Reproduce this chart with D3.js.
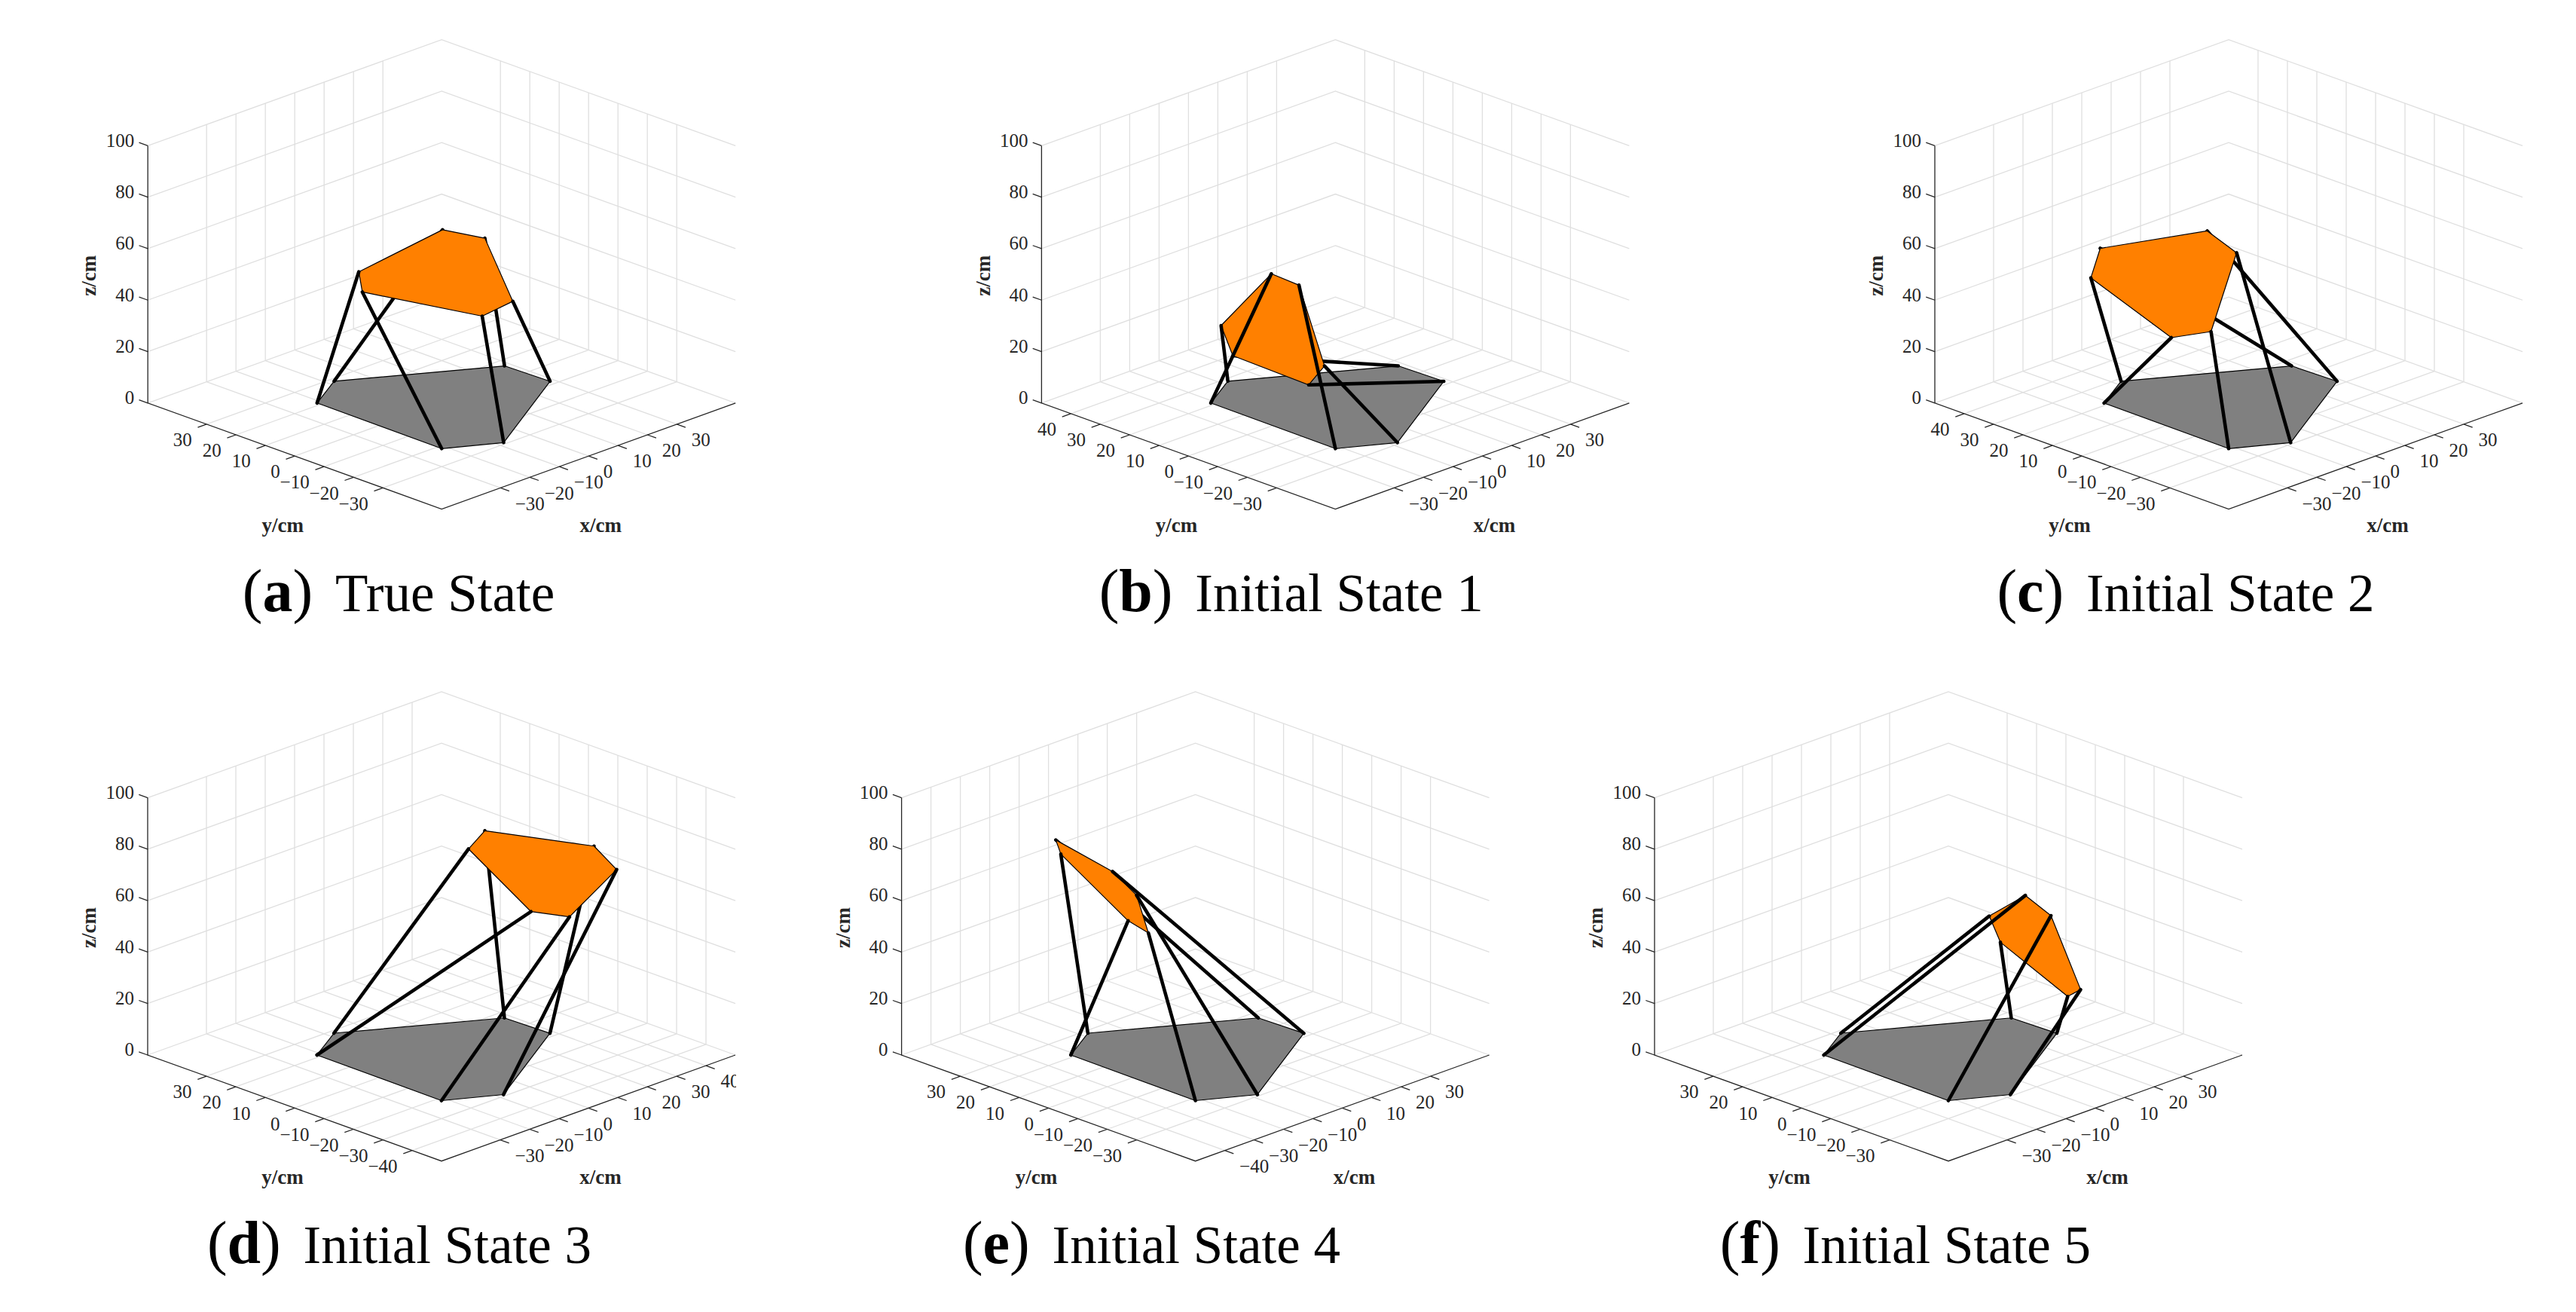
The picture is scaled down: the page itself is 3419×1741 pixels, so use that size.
<!DOCTYPE html>
<meta charset="utf-8">
<style>
    body { margin: 0; background: #fff; }
    text { font-family: "Liberation Serif", serif; fill: #262626; }
    .tick { font-size: 25px; }
    .label { font-size: 27px; font-weight: bold; text-anchor: middle; }
    .caption { font-size: 71px; fill: #000; text-anchor: middle; }
    .grid { stroke: #dfdfdf; stroke-width: 1.3; fill: none; }
    .axis { stroke: #262626; stroke-width: 1.3; fill: none; }
    .plate { stroke: #000; stroke-width: 1.2; stroke-linejoin: round; }
    .strut { stroke: #000; stroke-width: 4.6; fill: none; stroke-linecap: round; }
</style>
<svg width="3419" height="1741"></svg>
<script src="https://cdn.jsdelivr.net/npm/d3@7"></script>
<script>

    // anchor points on the floor, cm (x, y, z)
    var baseNodes = [[-21.2, 21.2, 0], [-8, 28.6, 0], [28.2, 6.8, 0], [28.7, -8.2, 0], [-8.1, -29.2, 0], [-21.5, -21.5, 0]];

    // moving plate per state, same order as baseNodes
    var topA = [[-12.9, 15.3, 50], [21.2, 20.9, 50], [24.4, 9.7, 50], [-0.6, -24.8, 50], [-12.8, -26.6, 50], [-21.8, 5.2, 50]];
    var topB = [[13.65, 35.45, 30], [-19.3, 19.6, 30], [-31.55, 3.35, 30], [-32.4, -23.3, 30], [-20.75, -17.05, 30], [13, 25.4, 30]];
    var topC = [[-33.5, -14, 45], [-19, 27.9, 45], [-3.5, 40.2, 45], [22.9, 30.2, 45], [17.6, 14.9, 45], [-23.9, -17.9, 45]];
    var topD = [[-2.07, -32.53, 70], [16.84, 7.67, 70], [28.22, 13.48, 70], [39.55, -12.35, 70], [32.35, -27.25, 70], [2.03, -41.53, 70]];
    var topE = [[-27, -4.1, 65], [-7, 38.8, 65], [-1.2, 46.3, 65], [-6.4, 21.8, 65], [-13.55, 6.45, 65], [-29.3, -13.3, 65]];
    var topF = [[39.85, 13.65, 40], [23.95, 10.05, 40], [13.5, -4.2, 40], [-0.6, -41.2, 40], [4.85, -40.15, 40], [34.65, -0.25, 40]];

    // struts hidden by the plate
    var behindA = [1, 2], behindB = [2], behindC = [2, 3], behindD = [2, 3], behindE = [2], behindF = [];

    var xTicks3 = [-30, -20, -10, 0, 10, 20, 30];
    var xTicksUp = [-30, -20, -10, 0, 10, 20, 30, 40];
    var xTicksDown = [-40, -30, -20, -10, 0, 10, 20, 30];
    var zTicks = [0, 20, 40, 60, 80, 100];

    var letters = ["a", "b", "c", "d", "e", "f"];
    var titles = ["True State", "Initial State 1", "Initial State 2", "Initial State 3", "Initial State 4", "Initial State 5"];

    var panels = [
        {cx: 586.2, fy: 534.8, capX: 529, capY: 811, top: topA, behind: behindA, xt: xTicks3, yt: xTicks3},
        {cx: 1772.4, fy: 534.8, capX: 1713.7, capY: 811, top: topB, behind: behindB, xt: xTicks3, yt: xTicksUp},
        {cx: 2958, fy: 534.8, capX: 2901, capY: 811, top: topC, behind: behindC, xt: xTicks3, yt: xTicksUp},
        {cx: 586, fy: 1400, capX: 530, capY: 1676, top: topD, behind: behindD, xt: xTicksUp, yt: xTicksDown},
        {cx: 1586.6, fy: 1400, capX: 1528.5, capY: 1676, top: topE, behind: behindE, xt: xTicksDown, yt: xTicks3},
        {cx: 2586, fy: 1400, capX: 2529, capY: 1676, top: topF, behind: behindF, xt: xTicks3, yt: xTicks3}
    ];

    var lim = 50;
    // isometric view: x-y goes to screen x, x+y and z go to screen y
    var su = d3.scaleLinear().domain([-100, 100]).range([-390, 390]);
    var sv = d3.scaleLinear().domain([-100, 100]).range([140.7, -140.7]);
    var sz = d3.scaleLinear().domain([0, 100]).range([0, -341.4]);

    function px(p) { return su(p[0] - p[1]); }
    function py(p) { return sv(p[0] + p[1]) + sz(p[2]); }

    var line3 = d3.line().x(px).y(py);

    var svg = d3.select("svg");

    svg.selectAll("g.panel")
        .data(panels)
        .enter().append("g")
        .attr("class", "panel")
        .attr("transform", function(d) { return "translate(" + d.cx + "," + d.fy + ")"; })
        .each(function(d, i) { drawPanel(d3.select(this), d, i); });

    function drawPanel(g, d, i) {
        var grid = g.append("g");

        // back walls, z lines
        zTicks.forEach(function(z) {
            grid.append("path").attr("class", "grid")
                .attr("d", line3([[-lim, lim, z], [lim, lim, z], [lim, -lim, z]]));
        });
        // verticals on the two walls
        d.xt.forEach(function(x) {
            grid.append("path").attr("class", "grid").attr("d", line3([[x, lim, 0], [x, lim, 100]]));
            grid.append("path").attr("class", "grid").attr("d", line3([[x, -lim, 0], [x, lim, 0]]));
        });
        d.yt.forEach(function(y) {
            grid.append("path").attr("class", "grid").attr("d", line3([[lim, y, 0], [lim, y, 100]]));
            grid.append("path").attr("class", "grid").attr("d", line3([[-lim, y, 0], [lim, y, 0]]));
        });

        // axes
        g.append("path").attr("class", "axis").attr("d", line3([[-lim, lim, 100], [-lim, lim, 0], [-lim, -lim, 0], [lim, -lim, 0]]));

        var clipId = "clip" + i;
        g.append("clipPath").attr("id", clipId).append("rect")
            .attr("x", -500).attr("y", -500).attr("width", 891).attr("height", 1000);
        var labels = g.append("g").attr("clip-path", "url(#" + clipId + ")");

        d.yt.forEach(function(y) {
            g.append("path").attr("class", "axis").attr("d", line3([[-lim, y, 0], [-lim - 3, y, 0]]));
            var p = [-lim, y, 0];
            labels.append("text").attr("class", "tick")
                .attr("x", px(p) - 19.5).attr("y", py(p) + 21)
                .attr("dy", "0.33em").attr("text-anchor", "end")
                .text(fmt(y));
        });
        d.xt.forEach(function(x) {
            g.append("path").attr("class", "axis").attr("d", line3([[x, -lim, 0], [x, -lim - 3, 0]]));
            var p = [x, -lim, 0];
            labels.append("text").attr("class", "tick")
                .attr("x", px(p) + 19.5).attr("y", py(p) + 21)
                .attr("dy", "0.33em").attr("text-anchor", "start")
                .text(fmt(x));
        });
        zTicks.forEach(function(z) {
            g.append("path").attr("class", "axis").attr("d", line3([[-lim, lim, z], [-lim, lim + 3, z]]));
            var p = [-lim, lim, z];
            labels.append("text").attr("class", "tick")
                .attr("x", px(p) - 18).attr("y", py(p) - 7)
                .attr("dy", "0.33em").attr("text-anchor", "end")
                .text(z);
        });

        g.append("text").attr("class", "label").attr("x", -211).attr("y", 163).attr("dy", "0.3em").text("y/cm");
        g.append("text").attr("class", "label").attr("x", 211).attr("y", 163).attr("dy", "0.3em").text("x/cm");
        g.append("text").attr("class", "label").attr("transform", "translate(-467,-169) rotate(-90)").attr("dy", "0.3em").text("z/cm");

        // floor plate
        g.append("path").attr("class", "plate").attr("fill", "#808080").attr("d", line3(baseNodes) + "Z");

        function strut(k) {
            g.append("path").attr("class", "strut").attr("d", line3([baseNodes[k], d.top[k]]));
        }
        d3.range(6).filter(function(k) { return d.behind.indexOf(k) >= 0; }).forEach(strut);
        g.append("path").attr("class", "plate").attr("fill", "#ff8000").attr("d", line3(d.top) + "Z");
        d3.range(6).filter(function(k) { return d.behind.indexOf(k) < 0; }).forEach(strut);

        var cap = svg.append("text").attr("class", "caption").attr("x", d.capX).attr("y", d.capY);
        cap.append("tspan").attr("font-size", 80).text("(");
        cap.append("tspan").attr("font-size", 80).attr("font-weight", "bold").text(letters[i]);
        cap.append("tspan").attr("font-size", 80).text(")");
        cap.append("tspan").attr("dx", "0.42em").text(titles[i]);
    }

    function fmt(v) { return v < 0 ? "\u2212" + (-v) : "" + v; }

</script>
